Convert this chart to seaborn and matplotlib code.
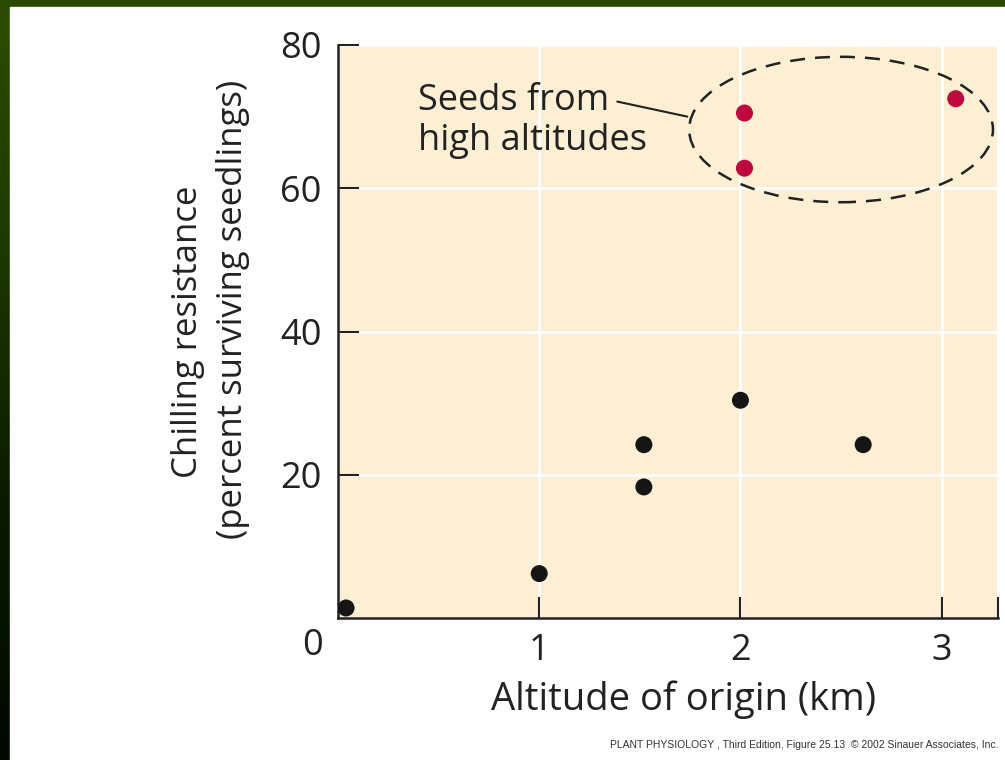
import numpy as np
import pandas as pd
import matplotlib
matplotlib.use("Agg")
import matplotlib.pyplot as plt
from matplotlib.patches import Ellipse, Rectangle
from matplotlib.colors import LinearSegmentedColormap
import seaborn as sns

# ── Data ─────────────────────────────────────────────────────
altitude_km = [0.04, 1.0, 1.52, 1.52, 2.0, 2.61, 2.02, 2.02, 3.07]
survival_pct = [1.4, 6.2, 24.2, 18.3, 30.4, 24.2, 70.5, 62.8, 72.5]
origin = ["low", "low", "low", "low", "low", "low", "high", "high", "high"]

x_ticks = [1, 2, 3]
y_ticks = [20, 40, 60, 80]

df = pd.DataFrame({"alt": altitude_km, "surv": survival_pct, "group": origin})

sns.set_style("white")
plt.rcParams["font.family"] = ["Open Sans", "DejaVu Sans"]

W, H = 1005, 760
INK = "#222222"
fig = plt.figure(figsize=(W / 100, H / 100), dpi=100)

# ── Green slide frame (left and top strips) ──────────────────
bg = fig.add_axes([0, 0, 1, 1], zorder=-10)
bg.set_axis_off()
grad = LinearSegmentedColormap.from_list("frame", ["#2c4e00", "#1d3800", "#0a1a00", "#000800"])
bg.imshow(np.linspace(0, 1, 256).reshape(-1, 1), aspect="auto", cmap=grad,
          extent=[0, 1, 0, 1])
bg.add_patch(Rectangle((0, 1 - 7 / H), 1, 7 / H, color="#2a4a00", transform=bg.transAxes))
bg.add_patch(Rectangle((10 / W, 0), 1, 1 - 7 / H, color="white", transform=bg.transAxes))
bg.set_xlim(0, 1)
bg.set_ylim(0, 1)

# ── Main plot ────────────────────────────────────────────────
ax = fig.add_axes([338 / W, 1 - 618 / H, 660 / W, 573 / H])
ax.set_facecolor("#fdefd3")

sns.scatterplot(data=df, x="alt", y="surv", hue="group",
                palette={"low": "#151515", "high": "#c0073f"},
                s=150, edgecolor="none", legend=False, ax=ax, zorder=5)

ax.set_xlim(0, 3.28)
ax.set_ylim(0, 80)
ax.set_xticks(x_ticks + [3.28])
ax.set_xticklabels([str(t) for t in x_ticks] + [""])
ax.set_yticks(y_ticks)
ax.grid(True, color="white", linewidth=2)
ax.set_axisbelow(True)

for side in ["top", "right"]:
    ax.spines[side].set_visible(False)
for side in ["left", "bottom"]:
    ax.spines[side].set_color(INK)
    ax.spines[side].set_linewidth(1.8)

ax.tick_params(direction="in", length=15, width=1.5, color=INK,
               labelsize=26, labelcolor=INK)
ax.tick_params(axis="x", pad=11)
ax.tick_params(axis="y", pad=12)
ax.tick_params(left=True, bottom=True)

ax.text(-0.038, -0.049, "0", transform=ax.transAxes, ha="center", va="center",
        fontsize=26, color=INK)

ax.set_xlabel("Altitude of origin (km)", fontsize=27.5, color=INK)
ax.xaxis.set_label_coords(0.523, -0.143)
ax.xaxis.label.set_va("center")
ax.set_ylabel("")

# y-axis title, two lines placed as in the original
fig.text(188 / W, 1 - 332 / H, "Chilling resistance", rotation=90,
         ha="center", va="center", fontsize=25, color=INK)
fig.text(233 / W, 1 - 309 / H, "(percent surviving seedlings)", rotation=90,
         ha="center", va="center", fontsize=25, color=INK)

# high-altitude grouping
ell = Ellipse((2.5, 68.2), 1.51, 20.3, fill=False, edgecolor=INK,
              linewidth=1.8, linestyle=(0, (6, 4)), zorder=4)
ax.add_patch(ell)
ax.text(0.40, 69.4, "Seeds from\nhigh altitudes", fontsize=26, color=INK,
        va="center", ha="left", linespacing=1.15)
ax.annotate("", xy=(1.736, 70.0), xytext=(1.388, 72.1),
            arrowprops=dict(arrowstyle="-", color=INK, lw=1.5,
                            shrinkA=0, shrinkB=0))

fig.text(998 / W, 1 - 745 / H,
         "PLANT PHYSIOLOGY , Third Edition, Figure 25.13  \u00a9 2002 Sinauer Associates, Inc.",
         ha="right", va="center", fontsize=7.5, color="#333333",
         family=["Liberation Sans", "DejaVu Sans"])

fig.savefig("out.png", dpi=100)
